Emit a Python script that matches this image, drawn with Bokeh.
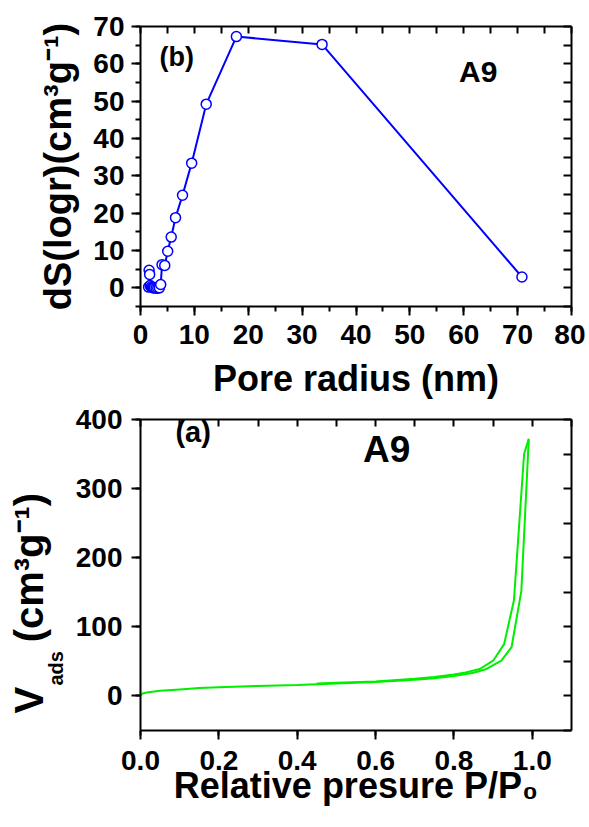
from bokeh.plotting import figure
from bokeh.models import (LinearAxis, SingleIntervalTicker, Label, Range1d,
                          Title, PrintfTickFormatter)
from bokeh.layouts import column
from bokeh.embed import file_html
from bokeh.resources import INLINE

# ---------------- data ----------------
# (b) pore size distribution, sample A9
pore_radius = [1.5, 1.6, 1.7, 1.8, 2.0, 2.2, 2.4, 2.6, 2.9, 3.2, 3.5, 3.75, 4.0,
               4.5, 5.05, 5.7, 6.5, 7.8, 9.5, 12.2, 17.8, 33.7, 70.8]
dS_logr = [0.2, 4.7, 3.6, 0.6, 0.3, 0.1, 0.0, 0.0, -0.1, -0.1, 0.0, 0.9, 6.2,
           6.0, 9.8, 13.6, 18.8, 24.8, 33.4, 49.2, 67.3, 65.2, 2.9]

# (a) N2 isotherm, sample A9
p_ads = [0.0, 0.005, 0.02, 0.05, 0.1, 0.15, 0.2, 0.3, 0.4, 0.5, 0.6, 0.7, 0.75,
         0.8, 0.85, 0.883, 0.921, 0.947, 0.972, 0.991]
v_ads = [0.5, 3.5, 5.5, 7.5, 9.5, 11.5, 12.5, 14.5, 16.0, 18.0, 20.0, 23.5, 25.5,
         29.0, 33.5, 39.0, 51.0, 70.5, 152.0, 372.0]
p_des = [0.991, 0.979, 0.953, 0.928, 0.9, 0.866, 0.83, 0.8, 0.75, 0.7, 0.6, 0.5, 0.45]
v_des = [372.0, 350.0, 138.0, 75.0, 51.0, 39.0, 34.0, 31.0, 27.5, 25.0, 21.0, 19.0, 18.0]

FONT = "Liberation Sans"
BLUE = "#0000ff"
GREEN = "#00ee00"


def style_axis(ax, interval, minor, t_in, t_out, m_in, m_out, labels, standoff=8):
    ax.ticker = SingleIntervalTicker(interval=interval, num_minor_ticks=minor)
    ax.axis_line_width = 2
    ax.axis_line_color = "black"
    ax.major_tick_line_width = 2
    ax.minor_tick_line_width = 2
    ax.major_tick_line_color = "black"
    ax.minor_tick_line_color = "black"
    ax.major_tick_in = t_in
    ax.major_tick_out = t_out
    ax.minor_tick_in = m_in
    ax.minor_tick_out = m_out
    ax.axis_label_text_font = FONT
    ax.axis_label_text_font_style = "bold"
    ax.axis_label_text_color = "black"
    if labels:
        ax.major_label_text_font = FONT
        ax.major_label_text_font_style = "bold"
        ax.major_label_text_font_size = "28px"
        ax.major_label_text_color = "black"
        ax.major_label_standoff = standoff
    else:
        ax.major_label_text_font_size = "0px"
        ax.major_label_text_alpha = 0


def base_fig(w, h, xr, yr, ml, mr, mt, mb):
    p = figure(width=w, height=h, x_range=Range1d(*xr), y_range=Range1d(*yr),
               output_backend="svg", toolbar_location=None,
               min_border_left=ml, min_border_right=mr,
               min_border_top=mt, min_border_bottom=mb)
    p.xgrid.visible = False
    p.ygrid.visible = False
    p.outline_line_color = None
    p.background_fill_color = "white"
    p.border_fill_color = "white"
    return p


def lab(p, x, y, text, size):
    p.add_layout(Label(x=x, y=y, text=text, text_font=FONT,
                       text_font_style="bold", text_font_size=size,
                       text_color="black", text_align="left",
                       text_baseline="alphabetic"))


# ---------------- top figure (b) ----------------
p1 = base_fig(585, 405, (0, 80), (-5, 70), 138, 14, 26, 99)
style_axis(p1.xaxis[0], 10, 2, 0, 9, 0, 5, True, 9)
style_axis(p1.yaxis[0], 10, 2, 0, 9, 0, 5, True, 7)
p1.xaxis[0].axis_label = "Pore radius (nm)"
p1.xaxis[0].axis_label_text_font_size = "36px"
p1.xaxis[0].axis_label_standoff = 11
p1.yaxis[0].axis_label = "dS(logr)(cm³g⁻¹)"
p1.yaxis[0].axis_label_text_font_size = "38px"
p1.yaxis[0].axis_label_standoff = 11
ax_r = LinearAxis()
style_axis(ax_r, 5, 0, 8, 0, 0, 0, False)
p1.add_layout(ax_r, "right")
ax_t = LinearAxis()
style_axis(ax_t, 5, 0, 7, 0, 0, 0, False)
p1.add_layout(ax_t, "above")

p1.line(pore_radius, dS_logr, line_color=BLUE, line_width=2)
p1.scatter(pore_radius, dS_logr, marker="circle", size=10, fill_color="white",
           line_color=BLUE, line_width=1.5)

# page -> data helpers for in-frame text placement (top)
def tx(px):
    return (px - 138) * 80 / 433

def ty(py):
    return 70 - (py - 26) * 75 / 280

lab(p1, tx(157), ty(56), "(b)", "27px")
lab(p1, tx(458), ty(71), "A9", "30px")

# ---------------- bottom figure (a) ----------------
p2 = base_fig(585, 420, (0, 1.1), (-50, 400), 140, 13, 14, 95)
style_axis(p2.xaxis[0], 0.2, 1, 0, 9, 0, 5, True, 11)
p2.xaxis[0].formatter = PrintfTickFormatter(format="%.1f")
p2.xaxis[0].axis_label = "Relative presure P/P₀"
p2.xaxis[0].axis_label_text_font_size = "36px"
p2.xaxis[0].axis_label_standoff = -8
style_axis(p2.yaxis[0], 100, 1, 0, 9, 0, 5, True, 9)
ax_r2 = LinearAxis()
style_axis(ax_r2, 50, 0, 8, 0, 0, 0, False)
p2.add_layout(ax_r2, "right")
ax_t2 = LinearAxis()
style_axis(ax_t2, 0.1, 0, 7, 0, 0, 0, False)
p2.add_layout(ax_t2, "above")

p2.add_layout(Title(text="ads", align="left", offset=45, standoff=11,
                    text_font=FONT, text_font_style="bold",
                    text_font_size="20px", text_color="black"), "left")
p2.add_layout(Title(text="V\u00a0\u00a0\u00a0\u00a0(cm³g⁻¹)", align="left", offset=17,
                    standoff=-26, text_font=FONT, text_font_style="bold",
                    text_font_size="40px", text_color="black"), "left")

p2.line(p_ads, v_ads, line_color=GREEN, line_width=2)
p2.line(p_des, v_des, line_color=GREEN, line_width=2)

def bx(px):
    return (px - 140) * 1.1 / 432

def by(py):
    return 400 - (py - 419) * 450 / 311

lab(p2, bx(175), by(431), "(a)", "29px")
lab(p2, bx(363), by(449), "A9", "37px")

layout = column(p1, p2)
open("out.html", "w").write(file_html(layout, INLINE))
